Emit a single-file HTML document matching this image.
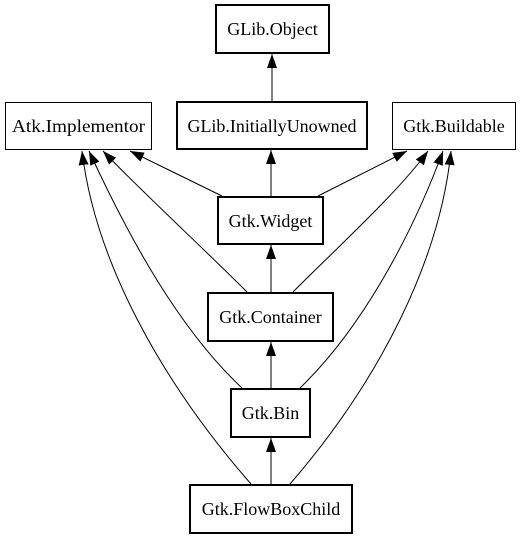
<!DOCTYPE html>
<html><head><style>body{margin:0;background:#fff}</style></head><body>
<svg width="521" height="539" viewBox="0 0 521 539" xmlns="http://www.w3.org/2000/svg" font-family="Liberation Serif, serif" font-size="18">
<defs><marker id="a" viewBox="0 0 14 10" refX="14" refY="5" markerWidth="14" markerHeight="10" markerUnits="userSpaceOnUse" orient="auto"><path d="M0,0L14,5L0,10z" fill="#000"/></marker></defs>
<g fill="none" stroke="#000" stroke-width="1">
<path d="M272,102L272,54" marker-end="url(#a)"/>
<path d="M271,197L271,150" marker-end="url(#a)"/>
<path d="M222,196L130,151" marker-end="url(#a)"/>
<path d="M318,196L407,151" marker-end="url(#a)"/>
<path d="M271,293L271,245" marker-end="url(#a)"/>
<path d="M247,292C200,245 140,190 103,151" marker-end="url(#a)"/>
<path d="M293,292C340,245 400,190 428,151" marker-end="url(#a)"/>
<path d="M271,389L271,342" marker-end="url(#a)"/>
<path d="M242,388C180,330 130,240 89,151" marker-end="url(#a)"/>
<path d="M300,388C360,330 410,240 443,151" marker-end="url(#a)"/>
<path d="M271,485L271,438" marker-end="url(#a)"/>
<path d="M251,484C160,380 95,260 82,151" marker-end="url(#a)"/>
<path d="M290,484C380,380 440,260 451,151" marker-end="url(#a)"/>
</g>
<g fill="#fff" stroke="#000">
<rect x="216" y="5" width="113" height="48" stroke-width="2"/>
<rect x="5.5" y="102.5" width="146" height="47"/>
<rect x="177" y="102" width="190" height="47" stroke-width="2"/>
<rect x="392.5" y="102.5" width="123" height="47"/>
<rect x="218" y="197" width="105" height="47" stroke-width="2"/>
<rect x="208" y="293" width="125" height="48" stroke-width="2"/>
<rect x="231" y="389" width="79" height="48" stroke-width="2"/>
<rect x="190" y="485" width="162" height="48" stroke-width="2"/>
</g>
<g text-anchor="middle" fill="#000">
<text x="272.5" y="35">GLib.Object</text>
<text x="78.5" y="132" textLength="133" lengthAdjust="spacingAndGlyphs">Atk.Implementor</text>
<text x="272" y="132" textLength="169" lengthAdjust="spacingAndGlyphs">GLib.InitiallyUnowned</text>
<text x="454" y="132">Gtk.Buildable</text>
<text x="270.5" y="227">Gtk.Widget</text>
<text x="270.5" y="323">Gtk.Container</text>
<text x="270.5" y="419">Gtk.Bin</text>
<text x="271" y="515">Gtk.FlowBoxChild</text>
</g>
</svg>
</body></html>
